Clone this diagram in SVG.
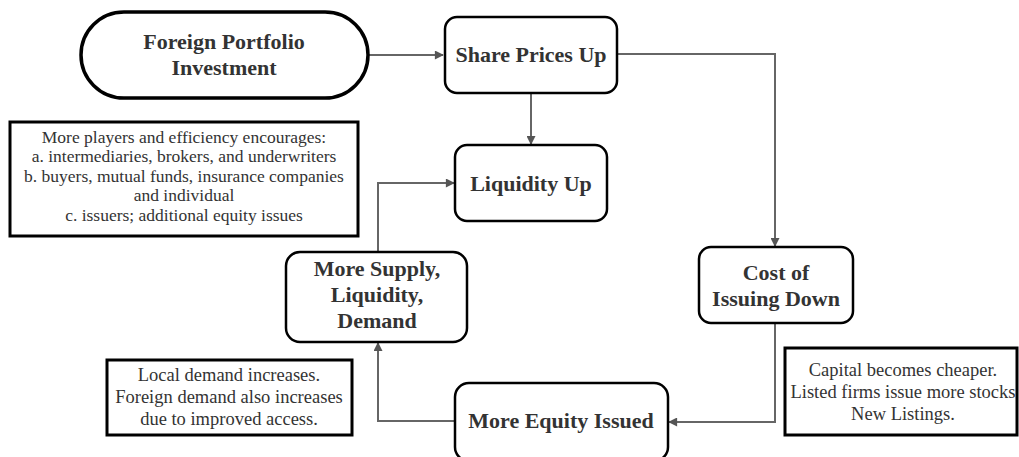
<svg xmlns="http://www.w3.org/2000/svg" width="1019" height="457" viewBox="0 0 1019 457">
<defs>
<marker id="ah" viewBox="0 0 10 10" refX="9" refY="5" markerWidth="10" markerHeight="9" markerUnits="userSpaceOnUse" orient="auto">
<path d="M0,0 L10,5 L0,10 z" fill="#555"/>
</marker>
<style>
.node{fill:#fff;stroke:#000;stroke-width:2.5}
.note{fill:#fff;stroke:#000;stroke-width:3}
.t{font-family:"Liberation Serif",serif;font-weight:bold;font-size:22px;fill:#333;text-anchor:middle}
.n{font-family:"Liberation Serif",serif;font-size:17.5px;fill:#333;text-anchor:middle}
.m{font-family:"Liberation Serif",serif;font-size:18.5px;fill:#333;text-anchor:middle}
.c{fill:none;stroke:#666;stroke-width:2;marker-end:url(#ah)}
</style>
</defs>
<rect width="1019" height="457" fill="#fff"/>
<g id="connectors">
<path class="c" d="M369,55 H443"/>
<path class="c" d="M617,54 H775 V246"/>
<path class="c" d="M531,94 V144"/>
<path class="c" d="M378,252 V183 H454"/>
<path class="c" d="M775,324 V422 H669"/>
<path class="c" d="M455,421 H378 V343"/>
</g>
<g id="foreign">
<rect x="81" y="12" width="287" height="86" rx="43" fill="#fff" stroke="#000" stroke-width="3.5"/>
<text class="t" x="224" y="49">Foreign Portfolio</text>
<text class="t" x="224" y="75">Investment</text>
</g>
<g id="share">
<rect class="node" x="445" y="17" width="172" height="76" rx="12"/>
<text class="t" x="531" y="62">Share Prices Up</text>
</g>
<g id="liquidity">
<rect class="node" x="455" y="145" width="152" height="76" rx="12"/>
<text class="t" x="531" y="191">Liquidity Up</text>
</g>
<g id="players">
<rect class="note" x="10" y="122" width="348" height="114"/>
<text class="n" x="184" y="143">More players and efficiency encourages:</text>
<text class="n" x="184" y="162">a. intermediaries, brokers, and underwriters</text>
<text class="n" x="184" y="182">b. buyers, mutual funds, insurance companies</text>
<text class="n" x="184" y="201">and individual</text>
<text class="n" x="184" y="221">c. issuers; additional equity issues</text>
</g>
<g id="supply">
<rect class="node" x="286" y="252" width="181" height="90" rx="14"/>
<text class="t" x="377" y="276">More Supply,</text>
<text class="t" x="377" y="302">Liquidity,</text>
<text class="t" x="377" y="328">Demand</text>
</g>
<g id="cost">
<rect class="node" x="699" y="247" width="154" height="76" rx="12"/>
<text class="t" x="776" y="280">Cost of</text>
<text class="t" x="776" y="306">Issuing Down</text>
</g>
<g id="equity">
<rect class="node" x="455" y="383" width="213" height="78" rx="14"/>
<text class="t" x="561" y="428">More Equity Issued</text>
</g>
<g id="local">
<rect class="note" x="107" y="360" width="245" height="75"/>
<text class="m" x="229" y="381">Local demand increases.</text>
<text class="m" x="229" y="403">Foreign demand also increases</text>
<text class="m" x="229" y="425">due to improved access.</text>
</g>
<g id="capital">
<rect class="note" x="785" y="348" width="232" height="87"/>
<text class="m" x="903" y="376">Capital becomes cheaper.</text>
<text class="m" x="903" y="398">Listed firms issue more stocks</text>
<text class="m" x="903" y="420">New Listings.</text>
</g>
</svg>
